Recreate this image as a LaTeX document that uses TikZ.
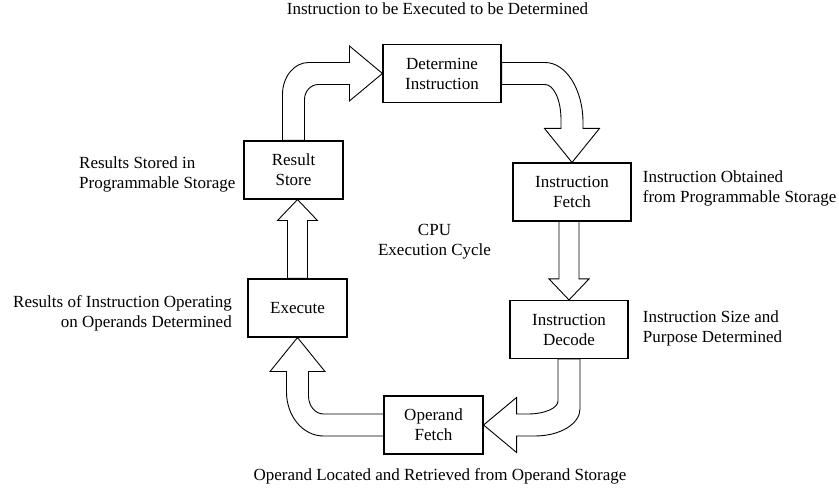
\documentclass[tikz,border=0pt]{standalone}
\usepackage{fontspec}
\setmainfont{Liberation Serif}
\usetikzlibrary{calc}

\begin{document}
\begin{tikzpicture}[x=1pt,y=1pt,font=\fontsize{17}{20}\selectfont,
    stage/.style={draw,line width=1.1pt,minimum width=99pt,minimum height=58pt,align=center,inner sep=2pt},
    wide stage/.style={stage,minimum width=118pt},
    note/.style={inner sep=0pt},
    fat arrow/.style={draw,fill=white,line width=0.9pt,line join=miter}]
    \fill[white] (0,0) rectangle (839,495);
    \useasboundingbox (0,0) rectangle (839,495);

    % the six stages of the cycle
    \node[wide stage] (det) at (442,421.5) {Determine\\Instruction};
    \node[wide stage] (ifetch) at (572,303) {Instruction\\Fetch};
    \node[wide stage] (idecode) at (569,165.5) {Instruction\\Decode};
    \node[stage] (opfetch) at (433.5,70) {Operand\\Fetch};
    \node[stage] (exec) at (297.5,187) {Execute};
    \node[stage] (rstore) at (293.5,325) {Result\\Store};

    % what happens at each stage
    \node[note,anchor=base] (n1) at (437.5,480.5) {Instruction to be Executed to be Determined};
    \node[note,anchor=west,align=left] (n2) at (642.7,306.5) {Instruction Obtained\\from Programmable Storage};
    \node[note,anchor=west,align=left] (n3) at (642.7,166.3) {Instruction Size and\\Purpose Determined};
    \node[note,anchor=base] (n4) at (440,14.3) {Operand Located and Retrieved from Operand Storage};
    \node[note,anchor=east,align=right] (n5) at (232,181.5) {Results of Instruction Operating\\on Operands Determined};
    \node[note,anchor=west,align=left] (n6) at (79,320.2) {Results Stored in\\Programmable Storage};
    \node[note,align=center] (cpu) at (434.5,252.8) {CPU\\Execution Cycle};

    % block arrows round the ring
    \draw[fat arrow] let \p1=(rstore.north), \p2=(det.west) in
      (\x1-11pt,\y1) -- (\x1-11pt,\y2-21pt)
      arc[start angle=180,end angle=90,x radius=26pt,y radius=32pt]
      -- (\x2-33pt,\y2+11pt) -- (\x2-33pt,\y2+27.5pt) -- (\p2)
      -- (\x2-33pt,\y2-27.5pt) -- (\x2-33pt,\y2-11pt) -- (\x1+25pt,\y2-11pt)
      arc[start angle=90,end angle=180,x radius=14pt,y radius=15pt]
      -- (\x1+11pt,\y1) -- cycle;
    \draw[fat arrow] let \p1=(det.east), \p2=(ifetch.north) in
      (\x1,\y1+11pt) -- (\x2-27pt,\y1+11pt)
      arc[start angle=90,end angle=0,x radius=38pt,y radius=60pt]
      -- (\x2+11pt,\y2+34pt) -- (\x2+27.5pt,\y2+34pt) -- (\p2)
      -- (\x2-27.5pt,\y2+34pt) -- (\x2-11pt,\y2+34pt) -- (\x2-11pt,\y1-46pt)
      arc[start angle=0,end angle=90,x radius=16pt,y radius=35pt]
      -- (\x1,\y1-11pt) -- cycle;
    \draw[fat arrow] let \p1=(ifetch.south), \p2=(idecode.north) in
      (\x2-10pt,\y1) -- (\x2-10pt,\y2+21pt) -- (\x2-20pt,\y2+21pt) -- (\p2)
      -- (\x2+20pt,\y2+21pt) -- (\x2+10pt,\y2+21pt) -- (\x2+10pt,\y1) -- cycle;
    \draw[fat arrow] let \p1=(idecode.south), \p2=(opfetch.east) in
      (\x1-11pt,\y1) -- (\x1-11pt,\y2+24pt)
      arc[start angle=0,end angle=-90,x radius=30pt,y radius=13pt]
      -- (\x2+33pt,\y2+11pt) -- (\x2+33pt,\y2+27.5pt) -- (\p2)
      -- (\x2+33pt,\y2-27.5pt) -- (\x2+33pt,\y2-11pt) -- (\x1-34pt,\y2-11pt)
      arc[start angle=-90,end angle=0,x radius=45pt,y radius=27pt]
      -- (\x1+11pt,\y1) -- cycle;
    \draw[fat arrow] let \p1=(opfetch.west), \p2=(exec.south) in
      (\x1,\y1+11pt) -- (\x2+26pt,\y1+11pt)
      arc[start angle=-90,end angle=-180,x radius=15pt,y radius=18pt]
      -- (\x2+11pt,\y2-34pt) -- (\x2+27.5pt,\y2-34pt) -- (\p2)
      -- (\x2-27.5pt,\y2-34pt) -- (\x2-11pt,\y2-34pt) -- (\x2-11pt,\y1+33pt)
      arc[start angle=180,end angle=270,x radius=37pt,y radius=44pt]
      -- (\x1,\y1-11pt) -- cycle;
    \draw[fat arrow] let \p1=(exec.north), \p2=(rstore.south) in
      (\x1-10pt,\y1) -- (\x1-10pt,\y2-21pt) -- (\x1-20pt,\y2-21pt) -- (\x1,\y2)
      -- (\x1+20pt,\y2-21pt) -- (\x1+10pt,\y2-21pt) -- (\x1+10pt,\y1) -- cycle;
\end{tikzpicture}
\end{document}
